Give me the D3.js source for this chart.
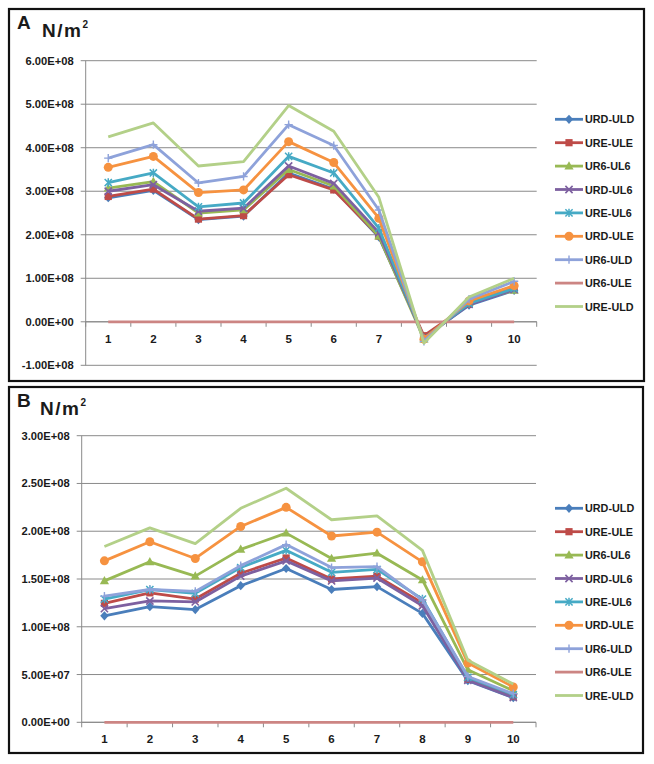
<!DOCTYPE html>
<html><head><meta charset="utf-8">
<script src="https://cdn.jsdelivr.net/npm/d3@7"></script>
<style>
html,body{margin:0;padding:0;background:#fff;}
svg text{font-family:"Liberation Sans",Arial,sans-serif;font-weight:bold;fill:#1a1a1a;}
</style></head>
<body>
<svg id="chart" width="654" height="764"></svg>
<script>
const categories = [1,2,3,4,5,6,7,8,9,10];
const seriesNames = ["URD-ULD","URE-ULE","UR6-UL6","URD-UL6","URE-UL6","URD-ULE","UR6-ULD","UR6-ULE","URE-ULD"];
const seriesColors = ["#4A7EBB","#BE4B48","#98B954","#7D60A0","#46AAC5","#F69240","#8EA2DA","#CC8583","#B3D088"];
const seriesMarkers = ["diamond","square","triangle","x","star","circle","plus","none","none"];

// Panel A values (N/m^2)
const a_URD_ULD = [2.85e8,3.02e8,2.35e8,2.43e8,3.42e8,3.05e8,1.95e8,-0.35e8,0.38e8,0.72e8];
const a_URE_ULE = [2.88e8,3.05e8,2.36e8,2.44e8,3.38e8,3.03e8,1.97e8,-0.32e8,0.40e8,0.80e8];
const a_UR6_UL6 = [3.07e8,3.22e8,2.50e8,2.57e8,3.50e8,3.12e8,1.97e8,-0.40e8,0.45e8,0.72e8];
const a_URD_UL6 = [3.00e8,3.15e8,2.54e8,2.61e8,3.58e8,3.18e8,2.05e8,-0.38e8,0.40e8,0.74e8];
const a_URE_UL6 = [3.20e8,3.42e8,2.64e8,2.73e8,3.80e8,3.42e8,2.15e8,-0.38e8,0.42e8,0.77e8];
const a_URD_ULE = [3.55e8,3.80e8,2.97e8,3.03e8,4.14e8,3.66e8,2.38e8,-0.40e8,0.48e8,0.83e8];
const a_UR6_ULD = [3.76e8,4.07e8,3.19e8,3.34e8,4.53e8,4.05e8,2.57e8,-0.45e8,0.52e8,0.93e8];
const a_UR6_ULE = [0,0,0,0,0,0,0,0,0,0];
const a_URE_ULD = [4.25e8,4.57e8,3.58e8,3.68e8,4.97e8,4.38e8,2.86e8,-0.49e8,0.57e8,1.00e8];

// Panel B values (N/m^2)
const b_URD_ULD = [1.115e8,1.21e8,1.18e8,1.43e8,1.61e8,1.39e8,1.42e8,1.14e8,0.435e8,0.257e8];
const b_URE_ULE = [1.245e8,1.355e8,1.29e8,1.56e8,1.72e8,1.50e8,1.53e8,1.25e8,0.45e8,0.27e8];
const b_UR6_UL6 = [1.48e8,1.68e8,1.53e8,1.81e8,1.98e8,1.715e8,1.77e8,1.49e8,0.55e8,0.33e8];
const b_URD_UL6 = [1.19e8,1.27e8,1.26e8,1.53e8,1.69e8,1.48e8,1.51e8,1.22e8,0.44e8,0.26e8];
const b_URE_UL6 = [1.29e8,1.39e8,1.35e8,1.62e8,1.80e8,1.57e8,1.60e8,1.29e8,0.47e8,0.29e8];
const b_URD_ULE = [1.69e8,1.89e8,1.715e8,2.05e8,2.25e8,1.95e8,1.99e8,1.68e8,0.62e8,0.37e8];
const b_UR6_ULD = [1.32e8,1.39e8,1.37e8,1.64e8,1.86e8,1.62e8,1.63e8,1.28e8,0.48e8,0.30e8];
const b_UR6_ULE = [0,0,0,0,0,0,0,0,0,0];
const b_URE_ULD = [1.84e8,2.035e8,1.87e8,2.24e8,2.45e8,2.12e8,2.16e8,1.80e8,0.65e8,0.40e8];

const yTicksA = [-1e8,0,1e8,2e8,3e8,4e8,5e8,6e8];
const yTicksB = [0,5e7,1e8,1.5e8,2e8,2.5e8,3e8];

const seriesA = [a_URD_ULD,a_URE_ULE,a_UR6_UL6,a_URD_UL6,a_URE_UL6,a_URD_ULE,a_UR6_ULD,a_UR6_ULE,a_URE_ULD];
const seriesB = [b_URD_ULD,b_URE_ULE,b_UR6_UL6,b_URD_UL6,b_URE_UL6,b_URD_ULE,b_UR6_ULD,b_UR6_ULE,b_URE_ULD];

function fmtE(v){
  if (v === 0) return "0.00E+00";
  const s = Math.abs(v).toExponential(2).toUpperCase();
  const m = s.split("E");
  const e = parseInt(m[1],10);
  const es = (e<0?"-":"+") + String(Math.abs(e)).padStart(2,"0");
  return (v<0?"-":"") + m[0] + "E" + es;
}

const svg = d3.select("#chart");

function drawMarker(g, type, x, y, color){
  const r = 3.6;
  if (type === "diamond"){
    g.append("path").attr("d",`M${x},${y-4.6}L${x+4.2},${y}L${x},${y+4.6}L${x-4.2},${y}Z`).attr("fill",color);
  } else if (type === "square"){
    g.append("rect").attr("x",x-r).attr("y",y-r).attr("width",2*r).attr("height",2*r).attr("fill",color);
  } else if (type === "triangle"){
    g.append("path").attr("d",`M${x},${y-4.8}L${x+4.6},${y+3.4}L${x-4.6},${y+3.4}Z`).attr("fill",color);
  } else if (type === "circle"){
    g.append("circle").attr("cx",x).attr("cy",y).attr("r",4.5).attr("fill",color);
  } else if (type === "x"){
    g.append("path").attr("d",`M${x-r},${y-r}L${x+r},${y+r}M${x-r},${y+r}L${x+r},${y-r}`).attr("stroke",color).attr("stroke-width",1.6).attr("fill","none");
  } else if (type === "star"){
    g.append("path").attr("d",`M${x-r},${y-r}L${x+r},${y+r}M${x-r},${y+r}L${x+r},${y-r}M${x},${y-r-0.6}L${x},${y+r+0.6}`).attr("stroke",color).attr("stroke-width",1.5).attr("fill","none");
  } else if (type === "plus"){
    g.append("path").attr("d",`M${x-r-0.5},${y}L${x+r+0.5},${y}M${x},${y-r-0.5}L${x},${y+r+0.5}`).attr("stroke",color).attr("stroke-width",1.4).attr("fill","none");
  }
}

function drawPanel(cfg){
  const g = svg.append("g");
  g.append("rect").attr("x",cfg.box[0]).attr("y",cfg.box[1]).attr("width",cfg.box[2]).attr("height",cfg.box[3])
    .attr("fill","none").attr("stroke","#111").attr("stroke-width",2.2);
  g.append("text").attr("x",cfg.box[0]+8).attr("y",cfg.box[1]+20).attr("font-size",19).text(cfg.letter);
  const u = g.append("text").attr("x",cfg.unitX).attr("y",cfg.unitY).attr("font-size",19).attr("letter-spacing",1.5);
  u.append("tspan").text("N/m");
  u.append("tspan").attr("font-size",10).attr("dy",-9).text("2");

  const x = d3.scaleBand().domain(categories).range([cfg.x0,cfg.x1]);
  const y = d3.scaleLinear().domain(cfg.yDomain).range([cfg.yBottom,cfg.yTop]);
  const cx = c => x(c) + x.bandwidth()/2;

  g.append("g").selectAll("line").data(cfg.yTicks).join("line")
    .attr("x1",cfg.x0-5).attr("x2",cfg.x1).attr("y1",d=>y(d)).attr("y2",d=>y(d))
    .attr("stroke","#8a8a8a").attr("stroke-width",1);
  g.append("line").attr("x1",cfg.x0).attr("x2",cfg.x0).attr("y1",y(cfg.yDomain[1])).attr("y2",y(cfg.yDomain[0]))
    .attr("stroke","#8a8a8a").attr("stroke-width",1);
  g.append("g").selectAll("text").data(cfg.yTicks).join("text")
    .attr("x",cfg.x0-12).attr("y",d=>y(d)+4).attr("text-anchor","end").attr("font-size",11.2).text(d=>fmtE(d));
  const y0 = y(0);
  g.append("line").attr("x1",cfg.x0).attr("x2",cfg.x1).attr("y1",y0).attr("y2",y0).attr("stroke","#8a8a8a").attr("stroke-width",1);
  const bounds = categories.map(c=>x(c)).concat([cfg.x1]);
  g.append("g").selectAll("line").data(bounds).join("line")
    .attr("x1",d=>d).attr("x2",d=>d).attr("y1",y0).attr("y2",y0+5).attr("stroke","#8a8a8a").attr("stroke-width",1);
  g.append("g").selectAll("text").data(categories).join("text")
    .attr("x",d=>cx(d)).attr("y",y0+cfg.xLabelDy).attr("text-anchor","middle").attr("font-size",11.5).text(d=>d);

  const line = d3.line().x((d,i)=>cx(categories[i])).y(d=>y(d));
  cfg.series.forEach((vals,si)=>{
    const sg = g.append("g");
    sg.append("path").datum(vals).attr("d",line).attr("fill","none")
      .attr("stroke",seriesColors[si]).attr("stroke-width",2.8).attr("stroke-linejoin","round");
    vals.forEach((v,i)=> drawMarker(sg, seriesMarkers[si], cx(categories[i]), y(v), seriesColors[si]));
  });

  const lg = g.append("g");
  seriesNames.forEach((n,si)=>{
    const ly = cfg.legendY + si*23.4;
    lg.append("line").attr("x1",555).attr("x2",583).attr("y1",ly).attr("y2",ly).attr("stroke",seriesColors[si]).attr("stroke-width",2.8);
    drawMarker(lg, seriesMarkers[si], 569, ly, seriesColors[si]);
    lg.append("text").attr("x",585).attr("y",ly+4).attr("font-size",10.8).text(n);
  });
}

drawPanel({letter:"A", box:[9,9,635,372], unitX:42, unitY:37,
  x0:85.7, x1:536.7, yTop:60.7, yBottom:365.3, yDomain:[-1e8,6e8], yTicks:yTicksA,
  series:seriesA, legendY:119.3, xLabelDy:21});
drawPanel({letter:"B", box:[9,387,634,366], unitX:40, unitY:415,
  x0:81.7, x1:536, yTop:435.7, yBottom:722.3, yDomain:[0,3e8], yTicks:yTicksB,
  series:seriesB, legendY:508.3, xLabelDy:21});
</script>
</body></html>
